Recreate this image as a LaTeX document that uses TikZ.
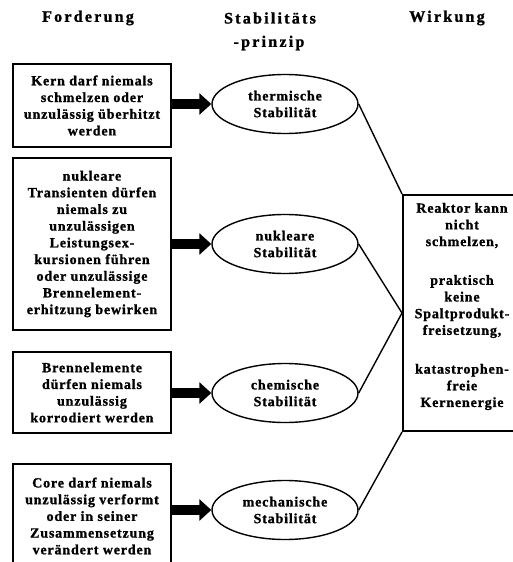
\documentclass[tikz,border=0pt]{standalone}
\usepackage{fontspec}
\setmainfont{Liberation Serif}[UprightFont={* Bold}, BoldFont={* Bold}, LetterSpace=6, FakeBold=1.2]
\newfontfamily\headfont{Liberation Serif}[UprightFont={* Bold}, BoldFont={* Bold}, LetterSpace=14, FakeBold=1.2]
\usetikzlibrary{arrows.meta,shapes.geometric}

\tikzset{
  head/.style={font=\headfont\fontsize{16}{19}\selectfont, align=center},
  reqbox/.style={draw, line width=2pt, minimum width=158pt, inner sep=2pt,
    align=center, font=\fontsize{14}{16.7}\selectfont},
  principle/.style={draw, ellipse, line width=1.4pt, minimum width=146pt,
    minimum height=59pt, inner sep=0pt, align=center,
    font=\fontsize{14}{16.7}\selectfont},
  effectbox/.style={draw, line width=2pt, minimum width=118pt, minimum height=236pt},
  effecttext/.style={align=center, font=\fontsize{14}{16.7}\selectfont},
  fatarrow/.style={line width=10pt, -{Triangle[length=12pt,width=21pt]}},
  link/.style={line width=1.4pt}
}

\begin{document}
\begin{tikzpicture}[x=1pt,y=-1pt]
\useasboundingbox (0,0) rectangle (513,562);
\clip (0,0) rectangle (513,562);

% column headings
\node[head] (h1) at (88,18) {Forderung};
\node[head] (h2) at (270,18) {Stabilitäts};
\node[head] (h3) at (269,43) {-prinzip};
\node[head] (h4) at (447,18) {Wirkung};

% requirements
\node[reqbox, minimum height=83pt] (r1) at (92,105.5)
  {Kern darf niemals\\schmelzen oder\\unzulässig überhitzt\\werden};
\node[reqbox, minimum height=172pt] (r2) at (92,244)
  {nukleare\\Transienten dürfen\\niemals zu\\unzulässigen\\Leistungsex-\\kursionen führen\\oder unzulässige\\Brennelement-\\erhitzung bewirken};
\node[reqbox, minimum height=81pt] (r3) at (92,392.5)
  {Brennelemente\\dürfen niemals\\unzulässig\\korrodiert werden};
\node[reqbox, minimum height=104pt] (r4) at (92,516)
  {Core darf niemals\\unzulässig verformt\\oder in seiner\\Zusammensetzung\\verändert werden};

% stability principles
\node[principle] (p1) at (285,104) {thermische\\Stabilität};
\node[principle] (p2) at (285,244) {nukleare\\Stabilität};
\node[principle] (p3) at (285,393) {chemische\\Stabilität};
\node[principle] (p4) at (285,510) {mechanische\\Stabilität};

% effect
\node[effectbox] (w) at (462,313) {};
\node[effecttext] (wt) at (462,306.5)
  {Reaktor kann\\nicht\\schmelzen,\\[22pt]praktisch\\keine\\Spaltprodukt-\\freisetzung,\\[22pt]katastrophen-\\freie\\Kernenergie};

% arrows from requirements to principles
\draw[fatarrow] (r1.east |- p1.west) -- (p1.west);
\draw[fatarrow] (r2.east |- p2.west) -- (p2.west);
\draw[fatarrow] (r3.east |- p3.west) -- (p3.west);
\draw[fatarrow] (r4.east |- p4.west) -- (p4.west);

% links from principles to effect
\draw[link] (p1.east) -- (w.north west);
\draw[link] (p2.east) -- (w.west);
\draw[link] (p3.east) -- (w.west);
\draw[link] (p4.east) -- (w.south west);
\end{tikzpicture}
\end{document}
